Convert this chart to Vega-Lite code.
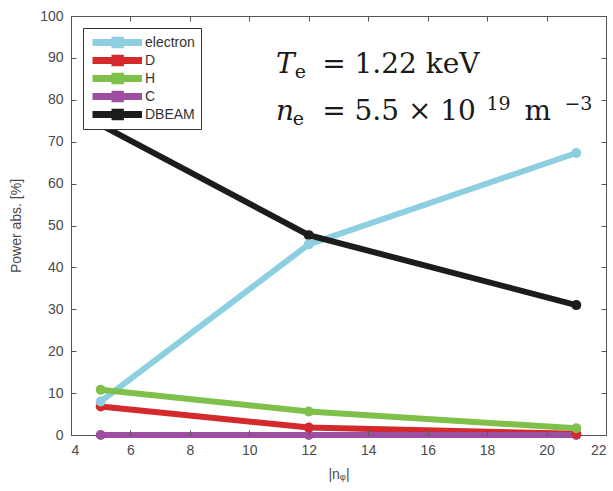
{
  "$schema": "https://vega.github.io/schema/vega-lite/v6.json",
  "width": 535,
  "height": 419,
  "autosize": "none",
  "padding": {"left": 71, "top": 16, "right": 7, "bottom": 56},
  "background": "white",
  "config": {
    "view": {"stroke": "#555555", "strokeWidth": 1},
    "axis": {
      "grid": false,
      "domain": false,
      "labelFont": "Liberation Sans",
      "labelFontSize": 14,
      "labelColor": "#4a4a4a",
      "titleFont": "Liberation Sans",
      "titleFontSize": 14,
      "titleFontWeight": "normal",
      "titleColor": "#4a4a4a"
    }
  },
  "datasets": {
    "power": [
      {"n_phi": 5, "power": 8, "species": "electron"},
      {"n_phi": 12, "power": 45.5, "species": "electron"},
      {"n_phi": 21, "power": 67.3, "species": "electron"},
      {"n_phi": 5, "power": 6.8, "species": "D"},
      {"n_phi": 12, "power": 1.8, "species": "D"},
      {"n_phi": 21, "power": 0.3, "species": "D"},
      {"n_phi": 5, "power": 10.8, "species": "H"},
      {"n_phi": 12, "power": 5.6, "species": "H"},
      {"n_phi": 21, "power": 1.6, "species": "H"},
      {"n_phi": 5, "power": 0, "species": "C"},
      {"n_phi": 12, "power": 0, "species": "C"},
      {"n_phi": 21, "power": 0, "species": "C"},
      {"n_phi": 5, "power": 74, "species": "DBEAM"},
      {"n_phi": 12, "power": 47.7, "species": "DBEAM"},
      {"n_phi": 21, "power": 31, "species": "DBEAM"}
    ],
    "notes": [
      {"part": "italic", "x": 10.9, "y": 86.4, "label": "T"},
      {"part": "sub", "x": 11.53, "y": 86.4, "label": "e"},
      {"part": "main", "x": 12.45, "y": 86.4, "label": "= 1.22 keV"},
      {"part": "italic", "x": 10.9, "y": 75.2, "label": "n"},
      {"part": "sub", "x": 11.46, "y": 75.2, "label": "e"},
      {"part": "main", "x": 12.45, "y": 75.2, "label": "= 5.5 × 10"},
      {"part": "sup", "x": 17.98, "y": 75.2, "label": "19"},
      {"part": "main", "x": 19.26, "y": 75.2, "label": "m"},
      {"part": "sup", "x": 20.6, "y": 75.2, "label": "−3"}
    ]
  },
  "layer": [
    {
      "data": {"name": "power"},
      "mark": {"type": "line", "strokeWidth": 6, "point": {"filled": true, "size": 100, "opacity": 1}},
      "encoding": {
        "x": {
          "field": "n_phi", "type": "quantitative",
          "scale": {"domain": [4, 22], "nice": false, "zero": false},
          "axis": {"tickCount": 10, "ticks": true, "tickSize": 5, "tickColor": "#555555", "tickWidth": 1, "offset": -5, "zindex": 1, "title": "|nᵩ|", "labelPadding": 8, "titlePadding": 10}
        },
        "y": {
          "field": "power", "type": "quantitative",
          "scale": {"domain": [0, 100], "nice": false},
          "axis": {"tickCount": 11, "ticks": true, "tickSize": 5, "tickColor": "#555555", "tickWidth": 1, "offset": -5, "zindex": 1, "title": "Power abs. [%]", "labelPadding": 8, "titlePadding": 16}
        },
        "color": {
          "field": "species", "type": "nominal",
          "sort": ["electron", "D", "H", "C", "DBEAM"],
          "scale": {"domain": ["electron", "D", "H", "C", "DBEAM"], "range": ["#8dcfe0", "#d42a2c", "#7fc04a", "#9d4ea0", "#1c1c1c"]},
          "legend": {
            "title": null,
            "orient": "top-left",
            "offset": 12,
            "symbolType": "M-1,0H4.5M1.5,-0.25H2.1V0.25H1.5Z",
            "symbolSize": 324,
            "symbolStrokeWidth": 7,
            "labelOffset": 31,
            "labelFont": "Liberation Sans",
            "labelFontSize": 14,
            "labelColor": "#333333",
            "fillColor": "white",
            "strokeColor": "#333333",
            "padding": 6,
            "rowPadding": 1,
            "clipHeight": 17
          }
        },
        "order": {"field": "species", "sort": "ascending"}
      }
    },
    {
      "data": {"name": "notes"},
      "transform": [{"filter": "datum.part === 'italic'"}],
      "mark": {"type": "text", "align": "left", "baseline": "alphabetic", "font": "DejaVu Serif", "fontStyle": "italic", "fontSize": 28, "color": "#1a1a1a"},
      "encoding": {
        "x": {"field": "x", "type": "quantitative", "axis": null},
        "y": {"field": "y", "type": "quantitative", "axis": null},
        "text": {"field": "label"}
      }
    },
    {
      "data": {"name": "notes"},
      "transform": [{"filter": "datum.part === 'main'"}],
      "mark": {"type": "text", "align": "left", "baseline": "alphabetic", "font": "DejaVu Serif", "fontSize": 28, "color": "#1a1a1a"},
      "encoding": {
        "x": {"field": "x", "type": "quantitative", "axis": null},
        "y": {"field": "y", "type": "quantitative", "axis": null},
        "text": {"field": "label"}
      }
    },
    {
      "data": {"name": "notes"},
      "transform": [{"filter": "datum.part === 'sub'"}],
      "mark": {"type": "text", "align": "left", "baseline": "alphabetic", "font": "DejaVu Serif", "fontSize": 19, "dy": 5, "color": "#1a1a1a"},
      "encoding": {
        "x": {"field": "x", "type": "quantitative", "axis": null},
        "y": {"field": "y", "type": "quantitative", "axis": null},
        "text": {"field": "label"}
      }
    },
    {
      "data": {"name": "notes"},
      "transform": [{"filter": "datum.part === 'sup'"}],
      "mark": {"type": "text", "align": "left", "baseline": "alphabetic", "font": "DejaVu Serif", "fontSize": 19, "dy": -10, "color": "#1a1a1a"},
      "encoding": {
        "x": {"field": "x", "type": "quantitative", "axis": null},
        "y": {"field": "y", "type": "quantitative", "axis": null},
        "text": {"field": "label"}
      }
    },
    {
      "data": {"name": "power"},
      "mark": {"type": "point", "opacity": 0},
      "encoding": {
        "x": {"field": "n_phi", "type": "quantitative", "axis": {"orient": "top", "tickCount": 10, "ticks": true, "tickSize": 5, "tickColor": "#555555", "offset": -5, "zindex": 1, "labels": false, "title": null}},
        "y": {"field": "power", "type": "quantitative", "axis": {"orient": "right", "tickCount": 11, "ticks": true, "tickSize": 5, "tickColor": "#555555", "offset": -5, "zindex": 1, "labels": false, "title": null}}
      }
    }
  ],
  "resolve": {"axis": {"x": "independent", "y": "independent"}}
}
